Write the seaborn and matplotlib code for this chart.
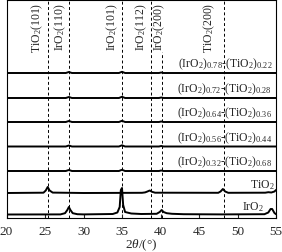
import numpy as np
import pandas as pd
import matplotlib
matplotlib.use("Agg")
import matplotlib.pyplot as plt
import seaborn as sns

# Data, traces listed bottom to top
sample_names = [r"IrO$_2$", r"TiO$_2$",
                r"(IrO$_2$)$_{0.32}$-(TiO$_2$)$_{0.68}$",
                r"(IrO$_2$)$_{0.56}$-(TiO$_2$)$_{0.44}$",
                r"(IrO$_2$)$_{0.64}$-(TiO$_2$)$_{0.36}$",
                r"(IrO$_2$)$_{0.72}$-(TiO$_2$)$_{0.28}$",
                r"(IrO$_2$)$_{0.78}$-(TiO$_2$)$_{0.22}$"]

iro2_x = [20, 27.0, 27.6, 27.9, 28.1, 28.3, 28.6, 29.2, 30, 33.8, 34.4, 34.7, 34.85, 35.0, 35.15,
          35.4, 36.2, 37.5, 39.5, 39.9, 40.15, 40.4, 40.8, 41.5, 43, 48, 53.5, 54.0, 54.3, 54.5, 54.8, 55]
iro2_y = [0.5, 0.6, 1.8, 5, 8, 5, 1.8, 0.8, 0.6, 1.0, 2.5, 8, 25, 27, 10,
          3, 1.5, 1.0, 1.2, 3, 5, 3, 1.8, 1.2, 0.8, 0.6, 0.8, 2.5, 6, 6, 2, 0.8]

tio2_x = [20, 24.8, 25.1, 25.35, 25.6, 26, 30, 37.6, 38.0, 38.3, 38.6, 38.9, 39.3, 47.5, 47.8,
          48.1, 48.4, 48.8, 53.6, 54.0, 54.4, 54.8, 55]
tio2_y = [0, 0.3, 2.5, 6, 2.5, 0.4, 0, 0.2, 0.6, 1.5, 2.5, 1.2, 0.3, 0.2, 1.5,
          4, 1.5, 0.2, 0.3, 0.8, 0.5, 1.5, 3]

mix_x = [20, 27.7, 28.1, 28.5, 34.6, 35.0, 35.4, 39.8, 40.1, 40.4, 55]
mix_y = [0, 0, 1.0, 0, 0, 1.2, 0, 0, 0.5, 0, 0]

trace_x = [iro2_x, tio2_x, mix_x, mix_x, mix_x, mix_x, mix_x]
trace_y = [iro2_y, tio2_y, mix_y, mix_y, mix_y, mix_y, mix_y]

peak_names = [r"TiO$_2$(101)", r"IrO$_2$(110)", r"IrO$_2$(101)",
              r"IrO$_2$(112)", r"IrO$_2$(200)", r"TiO$_2$(200)"]
peak_pos = [25.4, 28.1, 35.0, 38.8, 40.2, 48.3]

# layout
offsets = [3, 25, 47, 71.5, 96, 120, 145]
label_x = [53.4, 54.8, 54.5, 54.5, 54.5, 54.5, 54.5]
peak_label_x = [24.0, 26.95, 33.7, 37.5, 39.9, 46.3]

sns.set_theme(style="ticks")
plt.rcParams["font.family"] = ["Liberation Serif", "DejaVu Serif"]
plt.rcParams["mathtext.fontset"] = "custom"
plt.rcParams["mathtext.rm"] = "Liberation Serif"
plt.rcParams["mathtext.it"] = "Liberation Serif:italic"

fig = plt.figure(figsize=(2.82, 2.53), dpi=100)
ax = fig.add_axes([6.5 / 282, 1 - 219 / 253, 269.5 / 282, 218 / 253])

for i in range(len(sample_names)):
    df = pd.DataFrame({"x": trace_x[i], "y": np.array(trace_y[i]) + offsets[i]})
    sns.lineplot(data=df, x="x", y="y", color="black", lw=1.4, ax=ax, sort=False)
    ax.text(label_x[i], offsets[i] + 2, sample_names[i], ha="right", va="bottom", fontsize=8.5)

for j, p in enumerate(peak_pos):
    ymax = 0.76 if j == 4 else 1.0
    ax.axvline(p, ymin=0, ymax=ymax, color="black", lw=0.7, ls=(0, (3, 2.5)), zorder=0)
    ax.text(peak_label_x[j], 216, peak_names[j], rotation=90, ha="center", va="top", fontsize=8.5)

ax.set_xlim(20, 55)
ax.set_ylim(0, 218)
ax.set_xticks([20, 25, 30, 35, 40, 45, 50, 55])
ax.set_yticks([])
ax.tick_params(axis="x", direction="in", length=3, width=0.8, labelsize=9.5, pad=5)
ax.set_xlabel(r"$2\theta$/(°)", fontsize=9.5, labelpad=0)
ax.set_ylabel("")
for s in ax.spines.values():
    s.set_linewidth(0.8)
    s.set_color("black")

fig.savefig("out.png", dpi=100)
